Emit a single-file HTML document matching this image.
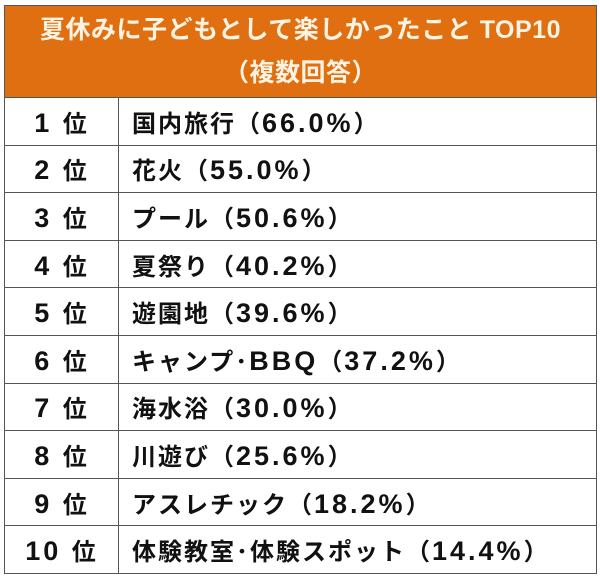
<!DOCTYPE html>
<html><head><meta charset="utf-8"><style>
body{margin:0;width:600px;height:584px;background:#fff;font-family:"Liberation Sans","Noto Sans CJK JP",sans-serif;overflow:hidden;}
table{position:absolute;left:4px;top:5px;width:592px;border-collapse:collapse;table-layout:fixed;}
td{border:1.5px solid #555;height:46.6px;padding:0;font-weight:bold;font-size:24px;color:#111;letter-spacing:2px;white-space:nowrap;}
th{background:#E06F12;color:#FDF3E3;border:1.5px solid #555;height:91px;font-size:25px;letter-spacing:0.5px;font-weight:bold;line-height:43px;padding:0;}
td.r{text-align:center;}
td.n{padding-left:13px;}
.d{font-size:27px;letter-spacing:3px;}
</style></head><body>
<table>
<colgroup><col style="width:114px"><col style="width:478px"></colgroup>
<tr><th colspan="2">夏休みに子どもとして楽しかったこと TOP10<br>（複数回答）</th></tr>
<tr><td class="r"><span class="d">1 </span>位</td><td class="n">国内旅行（<span class="d">66.0%</span>）</td></tr>
<tr><td class="r"><span class="d">2 </span>位</td><td class="n">花火（<span class="d">55.0%</span>）</td></tr>
<tr><td class="r"><span class="d">3 </span>位</td><td class="n">プール（<span class="d">50.6%</span>）</td></tr>
<tr><td class="r"><span class="d">4 </span>位</td><td class="n">夏祭り（<span class="d">40.2%</span>）</td></tr>
<tr><td class="r"><span class="d">5 </span>位</td><td class="n">遊園地（<span class="d">39.6%</span>）</td></tr>
<tr><td class="r"><span class="d">6 </span>位</td><td class="n">キャンプ･<span class="d">BBQ</span>（<span class="d">37.2%</span>）</td></tr>
<tr><td class="r"><span class="d">7 </span>位</td><td class="n">海水浴（<span class="d">30.0%</span>）</td></tr>
<tr><td class="r"><span class="d">8 </span>位</td><td class="n">川遊び（<span class="d">25.6%</span>）</td></tr>
<tr><td class="r"><span class="d">9 </span>位</td><td class="n">アスレチック（<span class="d">18.2%</span>）</td></tr>
<tr><td class="r"><span class="d">10 </span>位</td><td class="n">体験教室･体験スポット（<span class="d">14.4%</span>）</td></tr>
</table>
</body></html>
